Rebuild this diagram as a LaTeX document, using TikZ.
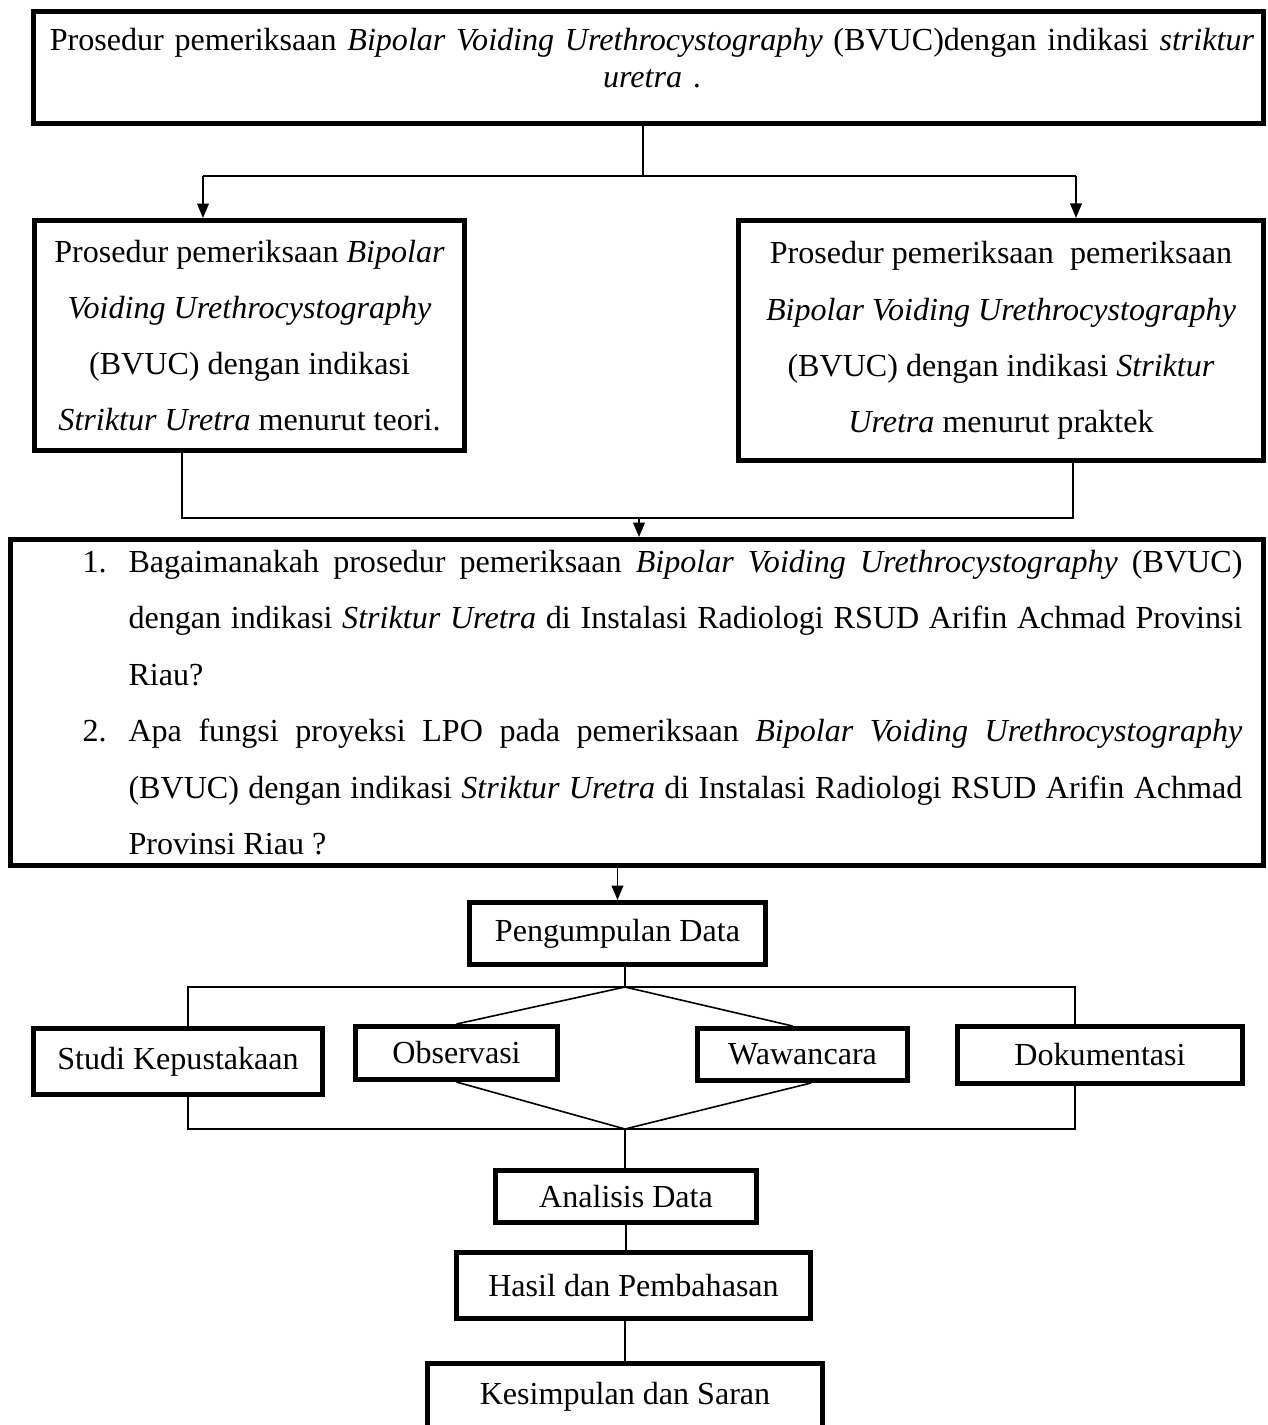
\documentclass[tikz,border=0pt]{standalone}
\usepackage{fontspec}
\setmainfont{Liberation Serif}
\usetikzlibrary{arrows.meta,calc}
\tikzset{
  flowbox/.style={draw,line width=1.9pt,inner sep=0pt,align=center,font=\fontsize{12}{21}\selectfont},
  conn/.style={line width=0.6pt},
  arr/.style={line width=0.6pt,-{Triangle[length=5.4pt,width=4.4pt]}}
}
\begin{document}
\begin{tikzpicture}[x=0.374pt,y=-0.374pt]
	\useasboundingbox (0,0) rectangle (1268,1425);
	%BOXES
	\node[flowbox,minimum width=460pt,minimum height=41.9pt] (top) at (648.5,67.5) {};
	\node[font=\fontsize{12}{13.8}\selectfont,align=center,text width=455pt,inner sep=0pt] (toptxt) at (652,58.5) {Prosedur pemeriksaan \textit{Bipolar Voiding Urethrocystography} (BVUC)dengan indikasi \textit{striktur}\\ \textit{uretra} .};
	\node[flowbox,minimum width=160.8pt,minimum height=86pt] (teori) at (249.5,335.5) {Prosedur pemeriksaan \textit{Bipolar}\\ \textit{Voiding Urethrocystography}\\ (BVUC) dengan indikasi\\ \textit{Striktur Uretra} menurut teori.};
	\node[flowbox,minimum width=196.4pt,minimum height=89.8pt] (praktek) at (1001,340.5) {Prosedur pemeriksaan\ \ pemeriksaan\\ \textit{Bipolar Voiding Urethrocystography}\\ (BVUC) dengan indikasi \textit{Striktur}\\ \textit{Uretra} menurut praktek};
	\node[flowbox,minimum width=468.6pt,minimum height=121.9pt] (rumusan) at (637,702.5) {};
	\node[text width=433.8pt,align=justify,inner sep=0pt,anchor=west,font=\fontsize{12}{21.1}\selectfont] (rumusantxt) at (82,702.5) {%
		\noindent\hangindent=17.2pt\hangafter=1\makebox[17.2pt][l]{1.}Bagaimanakah prosedur pemeriksaan \textit{Bipolar Voiding Urethrocystography} (BVUC)\linebreak dengan indikasi \textit{Striktur Uretra} di Instalasi Radiologi RSUD Arifin Achmad Provinsi\linebreak Riau?\par
		\noindent\hangindent=17.2pt\hangafter=1\makebox[17.2pt][l]{2.}Apa fungsi proyeksi LPO pada pemeriksaan \textit{Bipolar Voiding Urethrocystography}\linebreak (BVUC) dengan indikasi \textit{Striktur Uretra} di Instalasi Radiologi RSUD Arifin Achmad\linebreak Provinsi Riau ?\par};
	\node[flowbox,minimum width=110.7pt,minimum height=23.2pt] (data) at (617.5,933.5) {Pengumpulan Data};
	\node[flowbox,minimum width=108.1pt,minimum height=24.7pt] (studi) at (178,1061.5) {Studi Kepustakaan};
	\node[flowbox,minimum width=75.5pt,minimum height=19.8pt,text depth=0.5pt] (obs) at (456.5,1053) {Observasi};
	\node[flowbox,minimum width=78.5pt,minimum height=19.4pt,text depth=0.5pt] (waw) at (802.5,1054.5) {Wawancara};
	\node[flowbox,minimum width=106.6pt,minimum height=21.3pt] (dok) at (1100,1055) {Dokumentasi};
	\node[flowbox,minimum width=97.6pt,minimum height=19.4pt] (analisis) at (626,1196.5) {Analisis Data};
	\node[flowbox,minimum width=132.4pt,minimum height=24.7pt] (hasil) at (633.5,1285.5) {Hasil dan Pembahasan};
	\node[flowbox,minimum width=147.7pt,minimum height=25pt] (kesimpulan) at (625,1397) {Kesimpulan dan Saran};
	%LINES
	\coordinate (j1) at (643,176);
	\coordinate (aL) at (203,176);
	\coordinate (aR) at (1076,176);
	\draw[conn] (top.south -| j1) -- (j1);
	\draw[conn] (aL) -- (aR);
	\draw[arr] (aL) -- (aL |- teori.north);
	\draw[arr] (aR) -- (aR |- praktek.north);
	\coordinate (bL) at (182,518);
	\coordinate (bR) at (1073,518);
	\coordinate (b1) at (639,518);
	\draw[conn] (teori.south -| bL) -- (bL) -- (bR) -- (praktek.south -| bR);
	\draw[arr] (b1) -- (b1 |- rumusan.north);
	\draw[arr] (rumusan.south -| data.north) -- (data.north);
	\coordinate (c1) at (625,987);
	\coordinate (cL) at (188,987);
	\coordinate (cR) at (1075,987);
	\draw[conn] (data.south -| c1) -- (c1);
	\draw[conn] (studi.north -| cL) -- (cL) -- (cR) -- (dok.north -| cR);
	\draw[conn] (obs.north) -- (c1) -- ([xshift=-3.7pt]waw.north);
	\coordinate (d1) at (625,1129);
	\coordinate (dL) at (188,1129);
	\coordinate (dR) at (1075,1129);
	\draw[conn] (studi.south -| dL) -- (dL) -- (dR) -- (dok.south -| dR);
	\draw[conn] (obs.south) -- (d1) -- ([xshift=3.2pt]waw.south);
	\draw[conn] (d1) -- (d1 |- analisis.north);
	\draw[conn] (analisis.south) -- (analisis.south |- hasil.north);
	\draw[conn] (hasil.south -| kesimpulan.north) -- (kesimpulan.north);
\end{tikzpicture}
\end{document}
